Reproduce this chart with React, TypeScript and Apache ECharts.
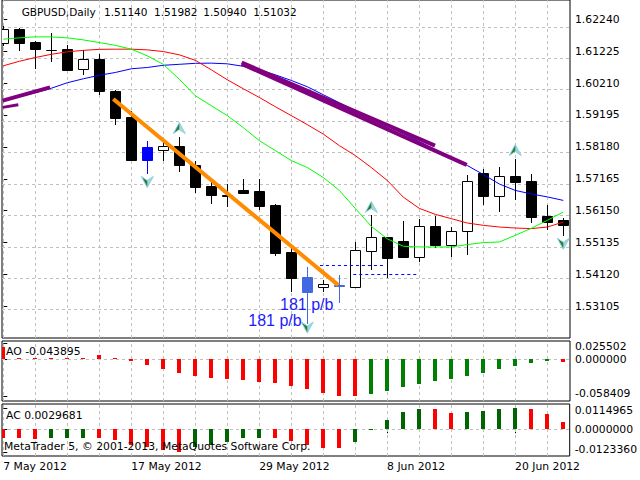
import React, { useEffect, useRef } from "react";
import * as echarts from "echarts";

// ---------- data ----------
const dates = [
  "7 May 2012", "8 May 2012", "9 May 2012", "10 May 2012", "11 May 2012",
  "14 May 2012", "15 May 2012", "16 May 2012", "17 May 2012", "18 May 2012",
  "21 May 2012", "22 May 2012", "23 May 2012", "24 May 2012", "25 May 2012",
  "28 May 2012", "29 May 2012", "30 May 2012", "31 May 2012", "1 Jun 2012",
  "4 Jun 2012", "5 Jun 2012", "6 Jun 2012", "7 Jun 2012", "8 Jun 2012",
  "11 Jun 2012", "12 Jun 2012", "13 Jun 2012", "14 Jun 2012", "15 Jun 2012",
  "18 Jun 2012", "19 Jun 2012", "20 Jun 2012", "21 Jun 2012", "22 Jun 2012",
  "25 Jun 2012",
];
const dateTickIdx = [0, 8, 16, 24, 32];

const opens = [1.61498, 1.61923, 1.6152, 1.61266, 1.61288, 1.60654, 1.60971, 1.59966, 1.59119, 1.57777, 1.58094, 1.58221, 1.57618, 1.56921, 1.56657, 1.56794, 1.56762, 1.56318, 1.54837, 1.54044, 1.53708, 1.53781, 1.53727, 1.54881, 1.55303, 1.55198, 1.54678, 1.55674, 1.55071, 1.55516, 1.57355, 1.56626, 1.57238, 1.57079, 1.55969, 1.55842];
const highs = [1.62027, 1.61974, 1.61552, 1.61796, 1.61415, 1.61257, 1.61149, 1.59998, 1.59331, 1.58358, 1.58358, 1.58484, 1.57745, 1.57111, 1.56984, 1.57143, 1.57143, 1.5635, 1.55049, 1.54361, 1.53939, 1.54098, 1.55154, 1.56023, 1.55325, 1.5581, 1.55874, 1.55969, 1.5562, 1.5727, 1.5746, 1.57555, 1.57799, 1.57323, 1.56318, 1.55928];
const lows = [1.61393, 1.61234, 1.60673, 1.60895, 1.60578, 1.60473, 1.59839, 1.58878, 1.57745, 1.57323, 1.57745, 1.57374, 1.56708, 1.56372, 1.56264, 1.56699, 1.56159, 1.5471, 1.53549, 1.52543, 1.53559, 1.532, 1.53695, 1.54278, 1.54012, 1.5467, 1.5452, 1.54976, 1.54678, 1.54742, 1.5634, 1.56106, 1.56477, 1.55769, 1.55547, 1.55335];
const closes = [1.61923, 1.61498, 1.61288, 1.61256, 1.60632, 1.60971, 1.59944, 1.59087, 1.57777, 1.58167, 1.58221, 1.57618, 1.56898, 1.56657, 1.56626, 1.56721, 1.56296, 1.54805, 1.54012, 1.53568, 1.53803, 1.53749, 1.54891, 1.55325, 1.54646, 1.54678, 1.55674, 1.55049, 1.55516, 1.57102, 1.56613, 1.57238, 1.57057, 1.55947, 1.55788, 1.55693];
// bars painted in blue on the chart
const blueBars: Record<number, string> = { 9: "#0000ff", 19: "#4169e1", 21: "#4169e1" };

const maGreen = [1.61606, 1.61647, 1.61679, 1.61679, 1.61647, 1.61583, 1.61498, 1.61409, 1.61288, 1.61076, 1.60806, 1.60331, 1.59807, 1.5949, 1.59173, 1.58792, 1.5838, 1.58063, 1.57745, 1.57523, 1.57206, 1.56794, 1.56223, 1.55652, 1.55255, 1.55018, 1.54995, 1.54995, 1.54995, 1.55072, 1.55135, 1.55154, 1.55366, 1.55589, 1.55842, 1.56106];
const maRed = [1.60759, 1.60902, 1.61022, 1.61124, 1.61203, 1.6125, 1.61282, 1.61288, 1.61288, 1.61266, 1.61212, 1.61108, 1.60933, 1.60632, 1.60315, 1.60029, 1.59753, 1.59458, 1.59173, 1.58887, 1.58586, 1.58221, 1.57904, 1.57523, 1.57111, 1.56581, 1.56223, 1.56033, 1.55896, 1.55757, 1.55684, 1.5563, 1.55598, 1.55579, 1.5563, 1.55788];
const maBlue = [1.59649, 1.59775, 1.59902, 1.60045, 1.6022, 1.60346, 1.60457, 1.60546, 1.60664, 1.60705, 1.60775, 1.60806, 1.60838, 1.60844, 1.60822, 1.60743, 1.60632, 1.60473, 1.60293, 1.60093, 1.59839, 1.59585, 1.59331, 1.59078, 1.58856, 1.58602, 1.58348, 1.58094, 1.57841, 1.57587, 1.57301, 1.57, 1.56794, 1.56683, 1.56588, 1.56477];

const fractalUp = [[11, 1.58761], [23, 1.56255], [32, 1.58063]];
const fractalDown = [[9, 1.57079], [19, 1.52448], [35, 1.55113]];

const purpleLines = [
  [[-0.04, 1.59649], [2.92, 1.60071]],
  [[-0.04, 1.59436], [0.94, 1.59522]],
  [[14.9, 1.60863], [26.98, 1.58221]],
  [[14.9, 1.60822], [28.96, 1.57609]],
];
const orangeLine = [[6.875, 1.59703], [20.94, 1.53781]];
const blueDashLines = [
  [[19.79, 1.54405], [23.86, 1.54405]],
  [[21.875, 1.5412], [25.84, 1.5412]],
];

const ao = [0.0194, 0.0011, 0.0011, 0.0011, 0.0011, 0.0011, 0.0063, 0.0021, -0.0027, -0.0095, -0.0158, -0.0221, -0.0264, -0.0295, -0.0316, -0.0332, -0.0368, -0.0379, -0.0421, -0.0474, -0.0537, -0.0584, -0.0584, -0.0548, -0.0505, -0.0442, -0.039, -0.0347, -0.0316, -0.0264, -0.0221, -0.0158, -0.0106, -0.0058, -0.0027, -0.0047];
const aoRising = [0, 0, 0, 0, 0, 0, 0, 0, 0, 0, 0, 0, 0, 0, 0, 0, 0, 0, 0, 0, 0, 0, 0, 1, 1, 1, 1, 1, 1, 1, 1, 1, 1, 1, 1, 0];
const ac = [-0.00486, -0.00486, -0.0054, -0.00486, -0.00448, -0.00448, -0.00486, -0.00578, -0.00847, -0.00945, -0.0111, -0.01234, -0.00972, -0.00847, -0.00664, -0.00486, -0.00448, -0.00459, -0.0061, -0.00847, -0.00988, -0.01026, -0.00664, -0.00016, 0.00502, 0.00934, 0.01079, 0.0107, 0.0088, 0.00934, 0.00988, 0.01079, 0.0115, 0.01079, 0.0081, 0.00394];
const acRising = [0, 0, 0, 1, 1, 1, 0, 0, 0, 0, 0, 0, 1, 1, 1, 1, 1, 0, 0, 0, 0, 0, 1, 1, 1, 1, 1, 0, 0, 1, 1, 1, 1, 0, 0, 0];

const priceTicks = [1.6224, 1.61225, 1.6021, 1.59195, 1.5818, 1.57165, 1.5615, 1.55135, 1.5412, 1.53105];
const aoTicks = [0.025502, 0, -0.058409];
const acTicks = [0.0114965, 0, -0.012336];
const gridXTicks = [0, 2, 4, 6, 8, 10, 12, 14, 16, 18, 20, 22, 24, 26, 28, 30, 32, 34];

const headerParts = ["GBPUSD,Daily", "1.51140", "1.51982", "1.50940", "1.51032"];
const aoTitle = "AO -0.043895";
const acTitle = "AC 0.0029681";
const copyright = "MetaTrader 5, \u00a9 2001-2013, MetaQuotes Software Corp.";
const pbLabel = "181 p/b";

// ---------- layout ----------
const XMIN = -0.081;
const XMAX = 35.419;
const FONT = "DejaVu Sans";
const FS = 10.8;

export default function App() {
  const ref = useRef<HTMLDivElement>(null);
  useEffect(() => {
    if (!ref.current) return;
    const chart = echarts.init(ref.current, undefined, { renderer: "svg" });
    const idx = opens.map((_, i) => i);
    const candles = idx.map((i) => [i, opens[i], highs[i], lows[i], closes[i]]);

    const gridLine = (k: number, yVals: number[], yRef: number) => ({
      type: "line",
      xAxisIndex: k,
      yAxisIndex: k,
      data: [[0, yRef]],
      symbol: "none",
      lineStyle: { opacity: 0 },
      silent: true,
      z: 1,
      markLine: {
        silent: true,
        z: 1,
        symbol: ["none", "none"],
        label: { show: false },
        lineStyle: { color: "#c0c0c0", type: [3, 3], width: 1 },
        data: [
          ...gridXTicks.map((x) => ({ xAxis: x })),
          ...yVals.map((y) => ({ yAxis: y })),
        ],
      },
    });

    const hist = (k: number, vals: number[], rising: number[], up: string, down: string) => ({
      type: "custom",
      xAxisIndex: k,
      yAxisIndex: k,
      clip: true,
      z: 3,
      data: vals.map((v, i) => [i, v, rising[i]]),
      renderItem: (params: any, api: any) => {
        const i = api.value(0);
        const p0 = api.coord([i, 0]);
        const p1 = api.coord([i, api.value(1)]);
        const x = Math.round(p0[0]) - 2;
        const y0 = Math.round(p0[1]);
        const y1 = Math.round(p1[1]);
        return {
          type: "rect",
          shape: { x, y: Math.min(y0, y1), width: 4, height: Math.max(Math.abs(y1 - y0), 1) },
          style: { fill: api.value(2) ? up : down },
        };
      },
    });

    const lineSeries = (data: number[][], color: string, width: number, z: number, dashed = false) => ({
      type: "line",
      xAxisIndex: 0,
      yAxisIndex: 0,
      data,
      symbol: "none",
      silent: true,
      z,
      lineStyle: { color, width, type: dashed ? [3, 3] : "solid" },
    });

    const valueFmt = (digits: number, topV: number, botV: number) => (v: number) => {
      const s = v.toFixed(digits);
      if (Math.abs(v - topV) < 1e-9) return "{t|" + s + "}";
      if (Math.abs(v - botV) < 1e-9) return "{b|" + s + "}";
      return s;
    };

    const yAxisBase = (k: number, min: number, max: number, ticks: number[], fmt: any, rich: any) => ({
      type: "value",
      gridIndex: k,
      position: "right",
      min,
      max,
      axisLine: { show: false },
      splitLine: { show: false },
      axisTick: { show: true, customValues: ticks, length: 4, lineStyle: { color: "#000" } },
      axisLabel: {
        customValues: ticks,
        formatter: fmt,
        color: "#000",
        fontFamily: FONT,
        fontSize: FS,
        margin: 5,
        rich,
      },
    });

    const xAxisBase = (k: number, show: boolean) => ({
      type: "value",
      gridIndex: k,
      min: XMIN,
      max: XMAX,
      show,
      axisLine: { show: false },
      splitLine: { show: false },
      axisTick: show
        ? { show: true, customValues: dateTickIdx, length: 4, lineStyle: { color: "#000" } }
        : { show: false },
      axisLabel: show
        ? {
            customValues: dateTickIdx,
            formatter: (v: number) => dates[Math.round(v)],
            align: "left",
            color: "#000",
            fontFamily: FONT,
            fontSize: FS,
            margin: 5,
          }
        : { show: false },
    });

    const richT = (pt: number, pb: number) => ({
      t: { fontFamily: FONT, fontSize: FS, color: "#000", padding: [pt, 0, 0, 0] },
      b: { fontFamily: FONT, fontSize: FS, color: "#000", padding: [0, 0, pb, 0] },
    });

    const arrowPts = (dir: number) =>
      dir > 0
        ? [[0, -6], [6, 5], [0, 1], [-6, 5]]
        : [[0, 6], [6, -5], [0, -1], [-6, -5]];

    const fractalSeries = (data: number[][], dir: number) => ({
      type: "custom",
      xAxisIndex: 0,
      yAxisIndex: 0,
      z: 6,
      data,
      renderItem: (params: any, api: any) => {
        const p = api.coord([api.value(0), api.value(1)]);
        const pts = arrowPts(dir);
        return {
          type: "group",
          children: [
            {
              type: "polygon",
              shape: { points: pts.map(([a, b]) => [p[0] + a, p[1] + b]) },
              style: { fill: "#2e7d32", stroke: "#8fd3e8", lineWidth: 1 },
            },
            {
              type: "polygon",
              shape: {
                points: [pts[0], pts[1], pts[2]].map(([a, b]) => [p[0] + a, p[1] + b]),
              },
              style: { fill: "#9fd8e0" },
            },
          ],
        };
      },
    });

    const textEl = (x: number, y: number, text: string, extra: any = {}) => ({
      type: "text",
      x,
      y,
      z: 100,
      style: {
        text,
        fill: "#000",
        font: `${FS}px "${FONT}"`,
        verticalAlign: "middle",
        align: "left",
        ...extra,
      },
    });

    const option: any = {
      animation: false,
      backgroundColor: "#ffffff",
      grid: [
        { left: 2, top: -1, width: 568, height: 339, show: true, borderColor: "#000", borderWidth: 1, backgroundColor: "#fff" },
        { left: 2, top: 341, width: 568, height: 60, show: true, borderColor: "#000", borderWidth: 1, backgroundColor: "#fff" },
        { left: 2, top: 404, width: 568, height: 52, show: true, borderColor: "#000", borderWidth: 1, backgroundColor: "#fff" },
      ],
      xAxis: [xAxisBase(0, false), xAxisBase(1, false), xAxisBase(2, true)],
      yAxis: [
        yAxisBase(0, 1.520995, 1.628522, priceTicks, (v: number) => v.toFixed(5), undefined),
        yAxisBase(1, -0.066301, 0.028415, aoTicks, valueFmt(6, aoTicks[0], aoTicks[2]), richT(8, 5)),
        yAxisBase(2, -0.014465, 0.013601, acTicks, valueFmt(7, acTicks[0], acTicks[2]), richT(5, 6)),
      ],
      graphic: [
        textEl(21.7, 11.7, headerParts[0], { font: `10.5px "${FONT}"` }),
        textEl(104, 11.7, headerParts[1], { font: `10.5px "${FONT}"` }),
        textEl(154, 11.7, headerParts[2], { font: `10.5px "${FONT}"` }),
        textEl(203.3, 11.7, headerParts[3], { font: `10.5px "${FONT}"` }),
        textEl(253.3, 11.7, headerParts[4], { font: `10.5px "${FONT}"` }),
        textEl(6, 351.7, aoTitle),
        textEl(6, 415, acTitle),
        textEl(4, 446, copyright),
        textEl(280, 304, pbLabel, { fill: "#1c1cff", font: `16px "Liberation Sans"` }),
        textEl(248.3, 320.5, pbLabel, { fill: "#1c1cff", font: `16px "Liberation Sans"` }),
      ],
      series: [
        gridLine(0, priceTicks, priceTicks[0]),
        gridLine(1, [0], 0),
        gridLine(2, [0], 0),
        {
          type: "custom",
          xAxisIndex: 0,
          yAxisIndex: 0,
          clip: true,
          z: 3,
          data: candles,
          renderItem: (params: any, api: any) => {
            const i = api.value(0);
            const o = api.value(1), h = api.value(2), l = api.value(3), c = api.value(4);
            const po = api.coord([i, o]);
            const pc = api.coord([i, c]);
            const ph = api.coord([i, h]);
            const pl = api.coord([i, l]);
            const x = Math.round(po[0]) + 0.5;
            const special = blueBars[i];
            const color = special || "#000";
            const top = Math.round(Math.min(po[1], pc[1])) + 0.5;
            const bot = Math.round(Math.max(po[1], pc[1])) + 0.5;
            const fill = special ? special : c > o ? "#fff" : "#000";
            return {
              type: "group",
              children: [
                {
                  type: "line",
                  shape: { x1: x, y1: Math.round(ph[1]), x2: x, y2: Math.round(pl[1]) },
                  style: { stroke: color, lineWidth: 1 },
                },
                {
                  type: "rect",
                  shape: { x: x - 5, y: top, width: 10, height: Math.max(bot - top, 0) },
                  style: { fill, stroke: color, lineWidth: 1 },
                },
              ],
            };
          },
        },
        lineSeries(idx.map((i) => [i, maBlue[i]]), "#0000ff", 1, 4),
        lineSeries(idx.map((i) => [i, maRed[i]]), "#ff0000", 1, 4),
        lineSeries(idx.map((i) => [i, maGreen[i]]), "#00ff00", 1, 4),
        ...purpleLines.map((d, k) => lineSeries(d, "#800080", k === 1 ? 3 : 4, 5)),
        lineSeries(orangeLine, "#ff8c00", 4, 5),
        ...blueDashLines.map((d) => lineSeries(d, "#0000ff", 1, 5, true)),
        fractalSeries(fractalUp, 1),
        fractalSeries(fractalDown, -1),
        hist(1, ao, aoRising, "#008000", "#ff0000"),
        hist(2, ac, acRising, "#006400", "#ff0000"),
      ],
    };
    chart.setOption(option);
    return () => chart.dispose();
  }, []);

  return (
    <div
      ref={ref}
      style={{ position: "absolute", left: 0, top: 0, width: 640, height: 480, background: "#fff" }}
    />
  );
}
